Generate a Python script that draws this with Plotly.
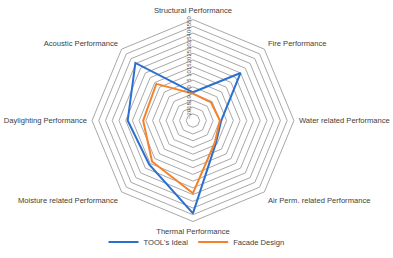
import plotly.graph_objects as go

categories = ["Structural Performance", "Fire Performance", "Water related Performance",
              "Air Perm. related Performance", "Thermal Performance",
              "Moisture related Performance", "Daylighting Performance", "Acoustic Performance"]
tool_ideal = [-4, 25, -4, -1, 44, 21, 23.5, 35.5]
facade_design = [-5, -6, -5, -2, 29, 18, 12, 13.5]
radial_ticks = list(range(-20, 55, 5))

def closed(v):
    return v + v[:1]

fig = go.Figure()
fig.add_trace(go.Scatterpolar(r=closed(tool_ideal), theta=closed(categories), mode="lines",
                              name="TOOL's Ideal", line=dict(color="#2b6fcf", width=2)))
fig.add_trace(go.Scatterpolar(r=closed(facade_design), theta=closed(categories), mode="lines",
                              name="Facade Design", line=dict(color="#f5822a", width=2)))

fig.update_layout(
    width=393, height=258,
    margin=dict(l=0, r=0, t=0, b=0),
    paper_bgcolor="white",
    font=dict(family="Liberation Sans, Arial", size=7.6, color="#404040"),
    polar=dict(
        domain=dict(x=[0.234, 0.748], y=[0.1415, 0.924]),
        gridshape="linear",
        bgcolor="white",
        radialaxis=dict(range=[-25, 50], tickvals=radial_ticks, angle=90, tickangle=0,
                        side="counterclockwise",
                        showline=False, ticks="", gridcolor="#a8a8a8", gridwidth=1,
                        tickfont=dict(size=6, color="#595959")),
        angularaxis=dict(direction="clockwise", rotation=90, showgrid=False,
                         linecolor="#a8a8a8", linewidth=1, ticks="outside", ticklen=3,
                         tickcolor="rgba(0,0,0,0)",
                         tickfont=dict(size=7.6, color="#404040")),
    ),
    showlegend=True,
    legend=dict(orientation="h", x=0.5, xanchor="center", y=0.062, yanchor="middle",
                font=dict(size=7.6, color="#404040"), bgcolor="rgba(0,0,0,0)",
                itemwidth=30),
)

fig.write_html("out.html", config={"displayModeBar": False},
               post_script="document.body.style.margin='0';")
